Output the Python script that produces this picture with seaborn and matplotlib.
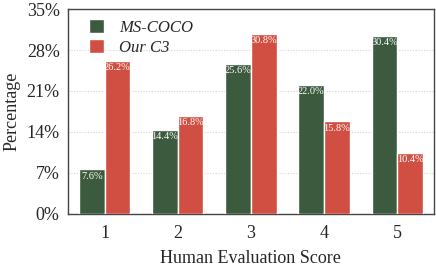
import numpy as np
import pandas as pd
import matplotlib as mpl
mpl.use("Agg")
import matplotlib.pyplot as plt
import seaborn as sns

scores = ["1", "2", "3", "4", "5"]
ms_coco = [7.6, 14.4, 25.6, 22.0, 30.4]
our_c3 = [26.2, 16.8, 30.8, 15.8, 10.4]
series = ["MS-COCO", "Our C3"]
yticks = [0, 7, 14, 21, 28, 35]

df = pd.DataFrame({
    "score": scores * 2,
    "pct": ms_coco + our_c3,
    "src": [series[0]] * 5 + [series[1]] * 5,
})

sns.set_style("white")
plt.rcParams["font.family"] = "serif"
plt.rcParams["font.serif"] = ["Liberation Serif", "Times New Roman", "DejaVu Serif"]

fig = plt.figure(figsize=(4.36, 2.67), dpi=100)
ax = fig.add_axes([0.156, 0.199, 0.839, 0.767])
pal = {"MS-COCO": "#3c5a3e", "Our C3": "#d14f42"}
sns.barplot(data=df, x="score", y="pct", hue="src", palette=pal, width=0.7,
            edgecolor="white", linewidth=1.0, saturation=1, ax=ax, zorder=3)

for cont in ax.containers:
    for bar in cont:
        h = bar.get_height()
        ax.text(bar.get_x() + bar.get_width() / 2, h - 0.4, f"{h:.1f}%",
                ha="center", va="top", color="white", fontsize=7.5, zorder=4)

ax.set_ylim(0, 35)
ax.set_yticks(yticks)
ax.set_yticklabels([f"{t}%" for t in yticks], fontsize=13)
ax.tick_params(axis="x", labelsize=13, length=0, pad=8)
ax.tick_params(axis="y", length=0, pad=6)
ax.yaxis.grid(True, linestyle=(0, (1, 1.5)), color="#d4d4d4", linewidth=0.8, zorder=0)
ax.set_axisbelow(True)
ax.set_xlabel("Human Evaluation Score", fontsize=13, labelpad=6)
ax.set_ylabel("Percentage", fontsize=13, labelpad=4)
for s in ax.spines.values():
    s.set_color("#444444")
    s.set_linewidth(1.0)

leg = ax.legend(loc="upper left", frameon=False, prop={"style": "italic", "size": 12},
                handlelength=0.9, handleheight=0.9, handletextpad=0.9,
                borderaxespad=0.2, labelspacing=0.2,
                bbox_to_anchor=(0.03, 1.0))

plt.savefig("out.png", dpi=100)
